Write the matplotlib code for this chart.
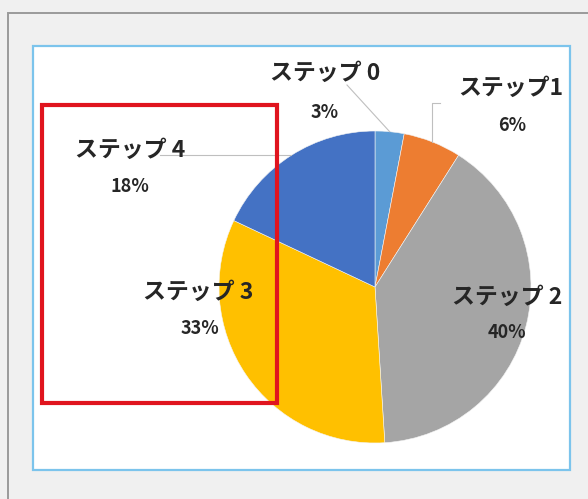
import numpy as np
import matplotlib
matplotlib.use('Agg')
import matplotlib.pyplot as plt
from matplotlib.patches import Rectangle

plt.rcParams['font.family'] = ['Noto Sans CJK JP', 'DejaVu Sans']

# step shares (percent)
steps = ['ステップ 0', 'ステップ1', 'ステップ 2', 'ステップ 3', 'ステップ 4']
shares = [3, 6, 40, 33, 18]
colors = ['#5b9bd5', '#ed7d31', '#a5a5a5', '#ffc000', '#4472c4']

# label anchors in pixels from top-left (name, percent)
name_pos = [(325, 73), (511, 88), (507, 297), (198, 292), (130, 150)]
pct_pos = [(325, 112), (512, 125), (507, 332), (200, 328), (130, 186)]

W, H = 588, 499
cx, cy, r = 375, 287, 156

fig = plt.figure(figsize=(W / 100, H / 100), dpi=100)
fig.patch.set_facecolor('#f0f0f0')
ax = fig.add_axes([0, 0, 1, 1])
ax.set_axis_off()

def Y(y):
    return H - y

# outer panel frame and chart area
ax.add_patch(Rectangle((8, -20), 620, Y(13) + 20, fill=False,
                       edgecolor='#9a9a9a', lw=1.4, zorder=1))
ax.add_patch(Rectangle((33, Y(470)), 570 - 33, 470 - 46, facecolor='white',
                       edgecolor='#7cc4ec', lw=1.6, zorder=2))

wedges, _ = ax.pie(shares, colors=colors, startangle=90, counterclock=False,
                   center=(cx, Y(cy)), radius=r,
                   wedgeprops=dict(edgecolor='#f4f4f4', linewidth=0.4))
for w in wedges:
    w.set_zorder(3)
ax.set_xlim(0, W)
ax.set_ylim(0, H)
ax.set_aspect('auto')

# edge point at the middle of each slice, clockwise from 12 o'clock
cum = np.cumsum(shares) - np.array(shares) / 2
theta = np.deg2rad(cum / sum(shares) * 360)
ex = cx + r * np.sin(theta)
ey = cy - r * np.cos(theta)

lc = '#bfbfbf'
ax.plot([347, ex[0]], [Y(85), Y(ey[0])], color=lc, lw=0.8, zorder=4)
ax.plot([440, ex[1], ex[1]], [Y(103), Y(103), Y(ey[1])], color=lc, lw=0.8, zorder=4)
ax.plot([160, ex[4]], [Y(ey[4]), Y(ey[4])], color=lc, lw=0.8, zorder=4)

for name, v, (nx, ny), (px, py) in zip(steps, shares, name_pos, pct_pos):
    ax.text(nx, Y(ny), name, ha='center', va='center', fontsize=16.5,
            fontweight='bold', color='#262626', zorder=6)
    ax.text(px, Y(py), f'{v}%', ha='center', va='center', fontsize=13,
            fontweight='bold', color='#262626', zorder=6)

# highlight box
ax.add_patch(Rectangle((42, Y(403)), 277 - 42, 403 - 105, fill=False,
                       edgecolor='#e0141e', lw=3, zorder=5))

fig.savefig('out.png', dpi=100, facecolor=fig.get_facecolor())
